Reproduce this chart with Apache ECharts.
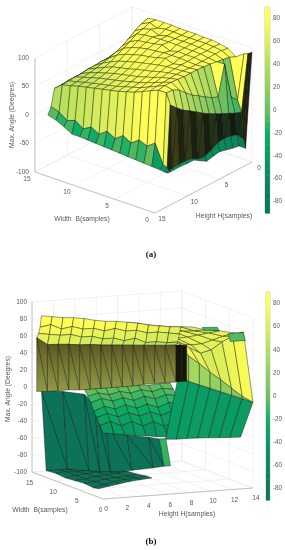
<!DOCTYPE html>
<html><head><meta charset="utf-8">
<script src="https://cdn.jsdelivr.net/npm/echarts@6/dist/echarts.min.js"></script>
<style>html,body{margin:0;background:#fff}#c{width:285px;height:550px;filter:blur(.3px)}</style></head>
<body><div id="c"></div>
<script>
// ---------- tick labels ----------
const zTicksA=[-100,-50,0,50,100];
const bTicksA=[0,5,10,15];
const hTicksA=[0,5,10,15];
const zTicksB=[-100,-80,-60,-40,-20,0,20,40,60,80,100];
const bTicksB=[0,5,10,15];
const hTicksB=[0,2,4,6,8,10,12,14];
const barTicks=[-80,-60,-40,-20,0,20,40,60,80];
// ---------- panel (a): surface samples, one row per H, one value per B ----------
const samplesBA=[0,.25,.5,1,2,3,4,5,6,7,8,9,10,11,12,13,14,15];
const samplesHA=[0,1,2,3,4,5,6,7,8,9,10,11,12,12.5,13];
const surfaceA=[
[93,90,88,85,75,85,88,90,90,91,91,91,92,92,92,90,64,42],
[-70,-55,-9,10,80,87,89,90,90,90,90,91,91,88,93,86,55,36],
[-60,-42,-5,21,82,87,88,89,90,90,90,90,86,92,88,80,48,32],
[-58,-38,1,85,84,86,88,89,89,90,90,90,89,88,85,72,45,30],
[-55,-36,6,33,86,86,88,88,89,85,91,88,86,84,78,65,46,30],
[-52,-38,12,38,87,86,87,88,88,88,86,85,82,78,72,60,45,31],
[-54,-45,18,45,88,86,87,84,89,85,82,80,76,72,66,56,45,31],
[-57,-50,25,53,88,87,86,85,83,80,77,74,70,66,60,53,44,31],
[-50,-48,33,60,88,87,85,82,78,75,72,68,65,62,56,50,44,30],
[-43,-42,41,70,89,86,83,78,74,70,67,64,61,57,53,48,42,30],
[-43,-40,48,81,90,85,80,75,70,67,63,60,57,54,50,46,42,30],
[-42,-40,58,87,90,84,78,72,68,64,60,57,54,51,48,44,41,29],
[-42,-41,69,88,88,82,76,70,66,62,59,56,53,50,47,43,40,29],
[-42,-42,-38,-35,-2,-12,-6,-16,-8,-18,-10,-20,-12,-20,-10,-15,-5,0],
[-42,-42,-42,-41,-40,-39,-38,-37,-36,-35,-34,-33,-32,-31,-31,-23,-16,-12]
];
// ---------- panel (b): surface pieces, one row per B, one value per H ----------
const floorB=[[-92,-91,-92,-91,-92,-91],[-91,-90,-91,-90,-91,-90],[-92,-90,-89,-88,-88,-87],[-91,-90,-88,-87,-86,-85],[-90,-89,-87,-86,-85,-84],[-91,-88,-86,-84,-83,-82],[-90,-88,-86,-84,-83,-82]];
const wallHB=[0,2,4,5,6,8,10,11];
const wallB=[[0,-3,-8,-22,-42,-60,-64,-67],[-92,-92,-96,-98,-99,-99,-98,-97]];
const sliverB=[[-67,-67],[-97,-97]];
const stairsB=[[-2,-2,-2,-2,-2,-2,-3,-2,-2],[-9,-6,-9,-6,-9,-6,-9,-6,-8],[-15,-11,-15,-12,-16,-12,-16,-12,-14],[-24,-19,-23,-19,-24,-20,-25,-20,-23],[-30,-26,-31,-27,-32,-28,-33,-29,-30],[-38,-34,-40,-36,-42,-38,-44,-40,-40],[-45,-47,-49,-51,-52,-54,-55,-54,-52]];
const lowerRightB=[[36,31,26,21,16,11,6,1],[-35,-36,-36,-36.5,-37,-38,-38.5,-39]];
const zigzagB=[[71,61,51,40,30,19.5,9,1],[36,31,26,21,16,11,6,1]];
const yellowRightB=[[73,71,68,66,64,63,62],[72.6,69,67,66,65,64.5,65],[67,66,65,65.5,67,68.5,70],[68,65.5,63.5,64,67.5,71,74],[73,65,58,61,69.5,75.5,79],[61,51,40,30,19.5,9,1]];
const topB=[[88,86,84,83,81,78,76,75,73,71,68,66,64,63],[74,76,70,72,68,68,64,66,62,62,58,58,56,54],[66,64,62,62,58,58,54,54,50,52,46,46,44,44],[60,51,50.5,49.5,48,47.5,46,45,44,43,42,41,40,39.5]];
const oliveB=[[60,51,50.5,49.5,48,47.5,46,45,44,43,42,41,40,39.5],[-3,-4,-4,-4,-5,-5,-5,-5,-5,-5,-4,-4,-4,-4]];
const blackB=[[39.5,39,38],[-4,-4,-4]];
const patch1B=[[73,72],[70,69]];
const patch2B=[[76,76],[68,68]];

const range=n=>Array.from({length:n},(_,i)=>i);
const viewA={ox:252,oy:105,bx:-8,by:-2.73,hx:-6.47,hy:3.4,zy:-.57};
const viewB={ox:103,oy:414,bx:-4.73,by:-1.8,hx:10.71,hy:-.786,zy:-.85};
const project=(v,b,h,z)=>[v.ox+v.bx*b+v.hx*h,v.oy+v.by*b+v.hy*h+v.zy*z];

const stops=[[-90,[12,115,90]],[-50,[8,142,96]],[-20,[12,172,100]],[0,[105,192,95]],[20,[145,207,95]],[40,[180,222,95]],[60,[220,238,90]],[80,[255,255,85]],[90,[255,255,90]]];
function cmapRGB(z){z=Math.max(-90,Math.min(90,z));
  for(let i=0;i<stops.length-1;i++){const a=stops[i],b=stops[i+1];if(z<=b[0]){const t=(z-a[0])/(b[0]-a[0]);return a[1].map((c,k)=>c+(b[1][k]-c)*t);}}
  return stops[stops.length-1][1];}
const css=(c,s=1)=>`rgb(${c.map(v=>Math.round(v*s)).join(',')})`;
const oliveFill={type:'linear',x:0,y:0,x2:0,y2:1,colorStops:[{offset:0,color:'#5c5822'},{offset:.5,color:'#7a7a35'},{offset:1,color:'#8f9a48'}]};

const items=[];
const line=(p,q,color,w)=>items.push({t:'l',p,q,color,w});
const text=(p,s,o={})=>items.push({t:'x',p,s,...o});
const EDGE='rgba(20,25,15,.8)';
function addSheet(v,sh){
  const R=sh.z.length,C=sh.h.length;
  for(let r=0;r<R-1;r++)for(let c=0;c<C-1;c++){
    const dh=sh.dh||[0,0];
    const hs=[sh.h[c]+dh[0],sh.h[c+1]+dh[0],sh.h[c+1]+dh[1],sh.h[c]+dh[1]];
    const bs=[sh.b[r],sh.b[r],sh.b[r+1],sh.b[r+1]];
    const zs=[sh.z[r][c],sh.z[r][c+1],sh.z[r+1][c+1],sh.z[r+1][c]];
    const pts=zs.map((z,i)=>project(v,bs[i],hs[i],z));
    const cz=sh.colorZ!==undefined?sh.colorZ:sh.z[r+(sh.colorRow||0)][c];
    let fill=sh.fill||css(cmapRGB(cz)),split=sh.split;
    const drop=Math.max(...zs)-Math.min(...zs);
    if(sh.darkB!==undefined&&Math.min(bs[0],bs[2])<=sh.darkB&&drop>30){fill=css(cmapRGB(Math.max(...zs)),.15+.1*(c%2));split=true;}
    items.push({t:'q',pts,fill,split});
  }
}
// frames
function frame(v,o){
  const G='#e9e9e9',A='#b5b5b5';
  o.walls.forEach(w=>{
    o.zt.forEach(z=>line(project(v,w[0],w[1],z),project(v,w[2],w[3],z),G,.6));
    w[4].forEach(t=>{const a=w[5]=='b'?[t,w[1]]:[w[0],t];line(project(v,a[0],a[1],o.zt[0]),project(v,a[0],a[1],o.zt[o.zt.length-1]),G,.6);});
  });
  o.bt.forEach(b=>line(project(v,b,0,o.zt[0]),project(v,b,o.hmax,o.zt[0]),G,.6));
  o.ht.forEach(h=>line(project(v,0,h,o.zt[0]),project(v,15,h,o.zt[0]),G,.6));
  o.axes.forEach(a=>line(project(v,a[0],a[1],a[2]),project(v,a[3],a[4],a[5]),A,.8));
}
frame(viewA,{zt:zTicksA,bt:bTicksA,ht:hTicksA,hmax:15,
  walls:[[15,15,15,0,hTicksA,'h'],[15,0,0,0,bTicksA,'b']],
  axes:[[15,15,-100,15,15,100],[15,15,-100,0,15,-100],[0,15,-100,0,0,-100]]});
frame(viewB,{zt:zTicksB,bt:bTicksB,ht:hTicksB,hmax:14,
  walls:[[15,0,15,14,hTicksB,'h'],[15,14,0,14,bTicksB,'b']],
  axes:[[15,0,-100,15,0,100],[15,0,-100,0,0,-100],[0,0,-100,0,14,-100]]});

// surface (a), far to near
addSheet(viewA,{b:samplesBA.slice().reverse(),h:samplesHA,
  z:samplesBA.map((_,i)=>surfaceA.map(row=>row[samplesBA.length-1-i])),colorRow:1,darkB:.25});
// surface (b), piece by piece
const H=(a,n)=>range(n).map(i=>a+i);
addSheet(viewB,{b:[12,10,8,6,4,2,1],h:H(0,6),z:floorB});
addSheet(viewB,{b:[13,12],h:wallHB,z:wallB,colorRow:1,split:true});
addSheet(viewB,{b:[13,12],h:[11,11.6],z:sliverB,colorZ:-12});
addSheet(viewB,{b:[13,12.3,11.6,11,10.4,9.7,9],h:H(4,9),z:stairsB});
addSheet(viewB,{b:[0,0],h:H(7,8),dh:[0,-1.15],z:lowerRightB,colorRow:1});
addSheet(viewB,{b:[0,0],h:H(7,8),z:zigzagB,colorRow:1});
addSheet(viewB,{b:[13,10,7,4,2,0],h:H(8,7),z:yellowRightB});
addSheet(viewB,{b:[13,13.3,13.6,14],h:H(0,14),z:topB});
addSheet(viewB,{b:[14,14],h:H(0,14),z:oliveB,fill:oliveFill,split:true});
addSheet(viewB,{b:[14,14],h:[13,13.5,14],z:blackB,fill:'#15150a',split:true});
addSheet(viewB,{b:[8,7.6],h:[12.8,14.2],z:patch1B,colorZ:-10});
addSheet(viewB,{b:[3,2.5],h:[13,14.4],z:patch2B,colorZ:-5});

// tick labels
const TXT='#5a5a5a';
zTicksA.forEach(z=>{const p=project(viewA,15,15,z);text([p[0]-6,p[1]],String(z),{align:'right'});});
bTicksA.forEach(b=>{const p=project(viewA,b,15,-100);text([p[0]-8,p[1]+7],String(b));});
hTicksA.forEach(h=>{const p=project(viewA,0,h,-100);text([p[0]+7,p[1]+6],String(h));});
zTicksB.forEach(z=>{const p=project(viewB,15,0,z);text([p[0]-5,p[1]],String(z),{align:'right'});});
bTicksB.forEach(b=>{const p=project(viewB,b,0,-100);text([p[0]-2.5,p[1]+11.5],String(b));});
hTicksB.forEach(h=>{const p=project(viewB,0,h,-100);text([p[0]+3,p[1]+10.5],String(h));});

const SANS='"Liberation Sans",Arial,sans-serif';
const bands=range(60).map(i=>-90+i*3);
const barSeries=(g)=>({type:'custom',xAxisIndex:g,yAxisIndex:g,silent:true,animation:false,clip:false,
  data:bands.map(z=>[0,z]),
  renderItem:(p,api)=>{const z=api.value(1),a=api.coord([0,z]),b=api.coord([1,z+3]);
    return {type:'rect',shape:{x:a[0],y:b[1],width:b[0]-a[0],height:a[1]-b[1]+.5},style:{fill:css(cmapRGB(z+1.5))}};}});
const barY=(g)=>({gridIndex:g,type:'value',min:-90,max:90,position:'right',
  axisLine:{show:true,lineStyle:{color:'#aaa',width:.6}},splitLine:{show:false},
  axisTick:{show:true,length:1.5,inside:false,customValues:barTicks,lineStyle:{color:'#aaa',width:.6}},
  axisLabel:{show:true,customValues:barTicks,fontSize:6.3,color:TXT,margin:3,fontFamily:SANS}});
const option={backgroundColor:'#fff',animation:false,
 grid:[{left:0,top:0,width:285,height:550},
       {left:265,top:7,width:7,height:206,show:true,borderColor:'#aaa',borderWidth:.6},
       {left:266,top:292,width:6,height:208,show:true,borderColor:'#aaa',borderWidth:.6}],
 xAxis:[{gridIndex:0,type:'value',min:0,max:285,show:false},{gridIndex:1,type:'value',min:0,max:1,show:false},{gridIndex:2,type:'value',min:0,max:1,show:false}],
 yAxis:[{gridIndex:0,type:'value',min:0,max:550,inverse:true,show:false},barY(1),barY(2)],
 graphic:[
  ...[['Max. Angle (Deegres)',12,115,90],['Width  B(samples)',82,219,0],['Height H(samples)',224,216,0],
     ['Max. Angle (Deegres)',8,389,90],['Width  B(samples)',40,510,0],['Height H(samples)',187,514,0]].map(a=>({
     type:'text',x:a[1],y:a[2],rotation:a[3]*Math.PI/180,silent:true,
     style:{text:a[0],fill:TXT,font:'6.8px '+SANS,align:'center',verticalAlign:'middle'}})),
  ...[['(a)',151,255],['(b)',151,542]].map(a=>({type:'text',x:a[1],y:a[2],silent:true,
     style:{text:a[0],fill:'#111',font:'bold 9px "Liberation Serif",serif',align:'center',verticalAlign:'middle'}}))
 ],
 series:[{type:'custom',coordinateSystem:'cartesian2d',xAxisIndex:0,yAxisIndex:0,silent:true,animation:false,clip:false,
   progressive:0,data:items.map((it,i)=>[0,0,i]),
   renderItem:(p,api)=>{const it=items[p.dataIndex];const c=q=>api.coord(q);
     if(it.t=='l')return {type:'line',shape:{x1:c(it.p)[0],y1:c(it.p)[1],x2:c(it.q)[0],y2:c(it.q)[1]},style:{stroke:it.color,lineWidth:it.w}};
     if(it.t=='x'){const a=c(it.p);return {type:'text',x:a[0],y:a[1],style:{text:it.s,fill:TXT,font:'6.5px '+SANS,align:it.align||'center',verticalAlign:'middle'}};}
     const pts=it.pts.map(c);
     const ch=[{type:'polygon',shape:{points:pts},style:{fill:it.fill,stroke:EDGE,lineWidth:.55,lineJoin:'round'}}];
     if(it.split)ch.push({type:'line',shape:{x1:pts[0][0],y1:pts[0][1],x2:pts[2][0],y2:pts[2][1]},style:{stroke:EDGE,lineWidth:.55}});
     return {type:'group',children:ch};}},
   barSeries(1),barSeries(2)]
};
echarts.init(document.getElementById('c'),null,{renderer:'canvas'}).setOption(option);
</script></body></html>
